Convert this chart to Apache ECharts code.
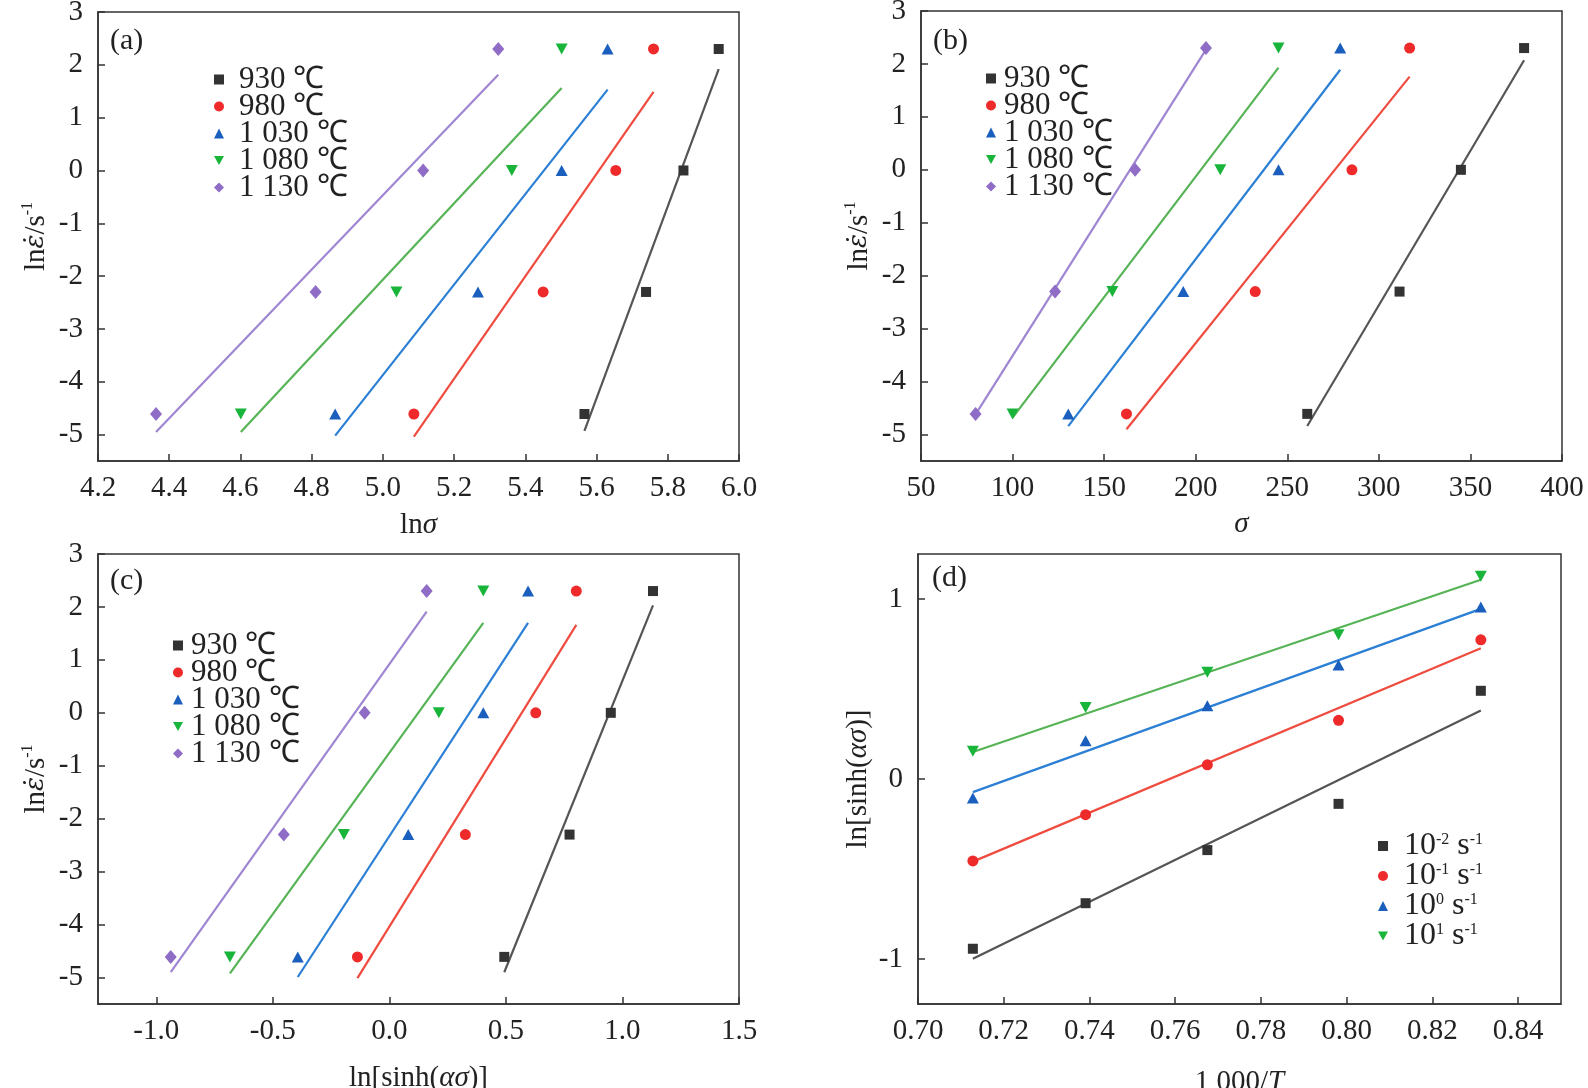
<!DOCTYPE html>
<html>
<head>
<meta charset="UTF-8">
<title>lnε - σ fits</title>
<script src="https://cdn.jsdelivr.net/npm/echarts@6/dist/echarts.min.js"></script>
<style>
  * {margin: 0; padding: 0;}
  body {background: #fff;}
  #chart {width: 1588px; height: 1088px;}
</style>
</head>
<body>
<div id="chart"></div>
<script>
// legend names
var temps = ['930 ℃', '980 ℃', '1 030 ℃', '1 080 ℃', '1 130 ℃'];
var rateExp = ['-2', '-1', '0', '1'];
var rateNames = ['10^-2 s^-1', '10^-1 s^-1', '10^0 s^-1', '10^1 s^-1'];

// ln(strain rate) of the four test rates
var lnRate = [-4.61, -2.30, 0, 2.30];

// (a) ln sigma
var aX930 = [5.566, 5.739, 5.844, 5.943];
var aX980 = [5.087, 5.450, 5.654, 5.760];
var aX1030 = [4.866, 5.267, 5.502, 5.631];
var aX1080 = [4.601, 5.038, 5.362, 5.502];
var aX1130 = [4.363, 4.811, 5.113, 5.324];
var aFit930 = [[5.566, -4.93], [5.943, 1.92]];
var aFit980 = [[5.087, -5.04], [5.760, 1.49]];
var aFit1030 = [[4.866, -5.02], [5.631, 1.53]];
var aFit1080 = [[4.601, -4.95], [5.502, 1.56]];
var aFit1130 = [[4.363, -4.95], [5.324, 1.81]];

// (b) sigma
var bX930 = [260.9, 311.3, 344.8, 379.3];
var bX980 = [162.2, 232.5, 285.3, 316.8];
var bX1030 = [130.4, 193.2, 245.2, 278.9];
var bX1080 = [100.0, 154.5, 213.4, 245.2];
var bX1130 = [79.8, 123.2, 166.9, 205.6];
var bFit930 = [[260.9, -4.84], [379.3, 2.07]];
var bFit980 = [[162.2, -4.90], [316.8, 1.76]];
var bFit1030 = [[130.4, -4.84], [278.9, 1.89]];
var bFit1080 = [[100.0, -4.68], [245.2, 1.93]];
var bFit1130 = [[79.8, -4.62], [205.6, 2.27]];

// (c) ln[sinh(a*sigma)]
var cX930 = [0.493, 0.773, 0.950, 1.131];
var cX980 = [-0.137, 0.326, 0.628, 0.802];
var cX1030 = [-0.393, 0.081, 0.403, 0.595];
var cX1080 = [-0.684, -0.195, 0.212, 0.403];
var cX1130 = [-0.938, -0.453, -0.106, 0.160];
var cFit930 = [[0.493, -4.90], [1.131, 2.03]];
var cFit980 = [[-0.137, -5.01], [0.802, 1.66]];
var cFit1030 = [[-0.393, -4.99], [0.595, 1.70]];
var cFit1080 = [[-0.684, -4.92], [0.403, 1.70]];
var cFit1130 = [[-0.938, -4.90], [0.160, 1.91]];

// (d) 1000/T
var dX = [0.7128, 0.7391, 0.7675, 0.7981, 0.8313];
var dY001 = [-0.943, -0.690, -0.395, -0.138, 0.490];
var dY01 = [-0.455, -0.198, 0.079, 0.326, 0.773];
var dY1 = [-0.105, 0.213, 0.407, 0.634, 0.955];
var dY10 = [0.154, 0.397, 0.593, 0.802, 1.126];
var dFit001 = [[0.7128, -0.998], [0.8313, 0.381]];
var dFit01 = [[0.7128, -0.459], [0.8313, 0.727]];
var dFit1 = [[0.7128, -0.073], [0.8313, 0.945]];
var dFit10 = [[0.7128, 0.150], [0.8313, 1.107]];

// tick labels
var yTicksRate = [-5, -4, -3, -2, -1, 0, 1, 2, 3];
var cTicksX = [-1.0, -0.5, 0.0, 0.5, 1.0, 1.5];
var dTicksX = [0.70, 0.72, 0.74, 0.76, 0.78, 0.80, 0.82, 0.84];
var dTicksY = [-1, 0, 1];

var markColors = ['#333333', '#ee2a2a', '#1a5fbd', '#19b43a', '#8f6cc6'];
var lineColors = ['#555555', '#ef4b3f', '#2b7fd4', '#56b356', '#9e86d2'];
var triDown = 'path://M0,0 L10,0 L5,9 Z';
var symbols = ['rect', 'circle', 'triangle', triDown, 'diamond'];
var symSize = [[10, 10], [11, 11], [12, 11], [12, 11], [12, 14]];

var SERIF = '"Liberation Serif", "Times New Roman", serif';
var INK = '#222';

function zipXY(xs, ys) {
	var out = [];
	for (var i = 0; i < xs.length; i++) out.push([xs[i], ys[i]]);
	return out;
}

function markSeries(name, data, k, g) {
	return {
		name: name, type: 'scatter', xAxisIndex: g, yAxisIndex: g,
		symbol: symbols[k], symbolSize: symSize[k],
		itemStyle: {color: markColors[k], opacity: 1},
		data: data, z: 3
	};
}

function fitSeries(data, k, g) {
	return {
		type: 'line', xAxisIndex: g, yAxisIndex: g, data: data,
		symbol: 'none', silent: true,
		lineStyle: {color: lineColors[k], width: 2.2}, z: 2
	};
}

var nameRich = {
	n: {fontFamily: SERIF, fontSize: 29, color: INK, lineHeight: 32},
	i: {fontFamily: SERIF, fontSize: 29, color: INK, fontStyle: 'italic', lineHeight: 32},
	e: {fontFamily: '"DejaVu Serif"', fontSize: 26, color: INK, fontStyle: 'italic', lineHeight: 32},
	s: {fontFamily: SERIF, fontSize: 16, color: INK, verticalAlign: 'top', lineHeight: 32}
};
var rateName = '{n|ln}{e|ε̇}{n|/s}{s|-1}';

function axisBase(g) {
	return {
		type: 'value', gridIndex: g,
		axisLine: {show: true, onZero: false, lineStyle: {color: '#333', width: 1.5}},
		axisTick: {show: true, inside: true, length: 7, lineStyle: {color: '#333', width: 1.5}},
		splitLine: {show: false},
		axisLabel: {fontFamily: SERIF, fontSize: 29, color: INK, margin: 14},
		nameLocation: 'middle',
		nameMoveOverlap: false,
		nameTextStyle: {rich: nameRich}
	};
}

function xAxisOf(g, min, max, extra) {
	var ax = axisBase(g);
	ax.min = min; ax.max = max;
	for (var k in extra) ax[k] = extra[k];
	return ax;
}

function xLabel(ticks, digits) {
	var l = {fontFamily: SERIF, fontSize: 29, color: INK, margin: 13,
		formatter: function (v) { return v.toFixed(digits); }};
	if (ticks) l.customValues = ticks;
	return l;
}

function xTick(ticks) {
	return {show: true, inside: true, length: 7, customValues: ticks, lineStyle: {color: '#333', width: 1.5}};
}

function yAxisOf(g, min, max, ticks, name, gap) {
	var ax = axisBase(g);
	ax.min = min; ax.max = max;
	ax.axisLabel.margin = 15;
	ax.axisLabel.customValues = ticks;
	ax.axisTick.customValues = ticks;
	ax.name = name; ax.nameGap = gap;
	return ax;
}

var chart = echarts.init(document.getElementById('chart'));

var grids = [
	{left: 98, top: 12, width: 641, height: 449},
	{left: 921, top: 11, width: 641, height: 450},
	{left: 98, top: 554, width: 641, height: 450},
	{left: 918, top: 554, width: 643, height: 450}
];
grids.forEach(function (g) {
	g.show = true; g.borderColor = '#333'; g.borderWidth = 1.5;
	g.containLabel = false; g.outerBoundsMode = 'none';
});

var xAxes = [
	xAxisOf(0, 4.2, 6.0, {interval: 0.2, name: '{n|ln}{i|σ}', nameGap: 48, axisLabel: xLabel(null, 1)}),
	xAxisOf(1, 50, 400, {interval: 50, name: '{i|σ}', nameGap: 47, axisLabel: xLabel(null, 0)}),
	xAxisOf(2, -1.25, 1.5, {name: '{n|ln[sinh(}{i|ασ}{n|)]}', nameGap: 58,
		axisLabel: xLabel(cTicksX, 1), axisTick: xTick(cTicksX)}),
	xAxisOf(3, 0.70, 0.85, {name: '{n|1 000/}{i|T}', nameGap: 62,
		axisLabel: xLabel(dTicksX, 2), axisTick: xTick(dTicksX)})
];

var yAxes = [
	yAxisOf(0, -5.5, 3, yTicksRate, rateName, 46),
	yAxisOf(1, -5.5, 3, yTicksRate, rateName, 46),
	yAxisOf(2, -5.5, 3, yTicksRate, rateName, 46),
	yAxisOf(3, -1.25, 1.25, dTicksY, '{n|ln[sinh(}{i|ασ}{n|)]}', 44)
];

var aXs = [aX930, aX980, aX1030, aX1080, aX1130];
var aFits = [aFit930, aFit980, aFit1030, aFit1080, aFit1130];
var bXs = [bX930, bX980, bX1030, bX1080, bX1130];
var bFits = [bFit930, bFit980, bFit1030, bFit1080, bFit1130];
var cXs = [cX930, cX980, cX1030, cX1080, cX1130];
var cFits = [cFit930, cFit980, cFit1030, cFit1080, cFit1130];
var dYs = [dY001, dY01, dY1, dY10];
var dFits = [dFit001, dFit01, dFit1, dFit10];

var series = [];
[aFits, bFits, cFits].forEach(function (fits, g) {
	fits.forEach(function (f, k) { series.push(fitSeries(f, k, g)); });
});
dFits.forEach(function (f, k) { series.push(fitSeries(f, k, 3)); });
[aXs, bXs, cXs].forEach(function (xs, g) {
	xs.forEach(function (x, k) { series.push(markSeries(temps[k], zipXY(x, lnRate), k, g)); });
});
dYs.forEach(function (y, k) { series.push(markSeries(rateNames[k], zipXY(dX, y), k, 3)); });

function legendItems(names) {
	return names.map(function (n, k) { return {name: n, icon: symbols[k]}; });
}

function tempLegend(left, top, pad) {
	return {
		data: legendItems(temps), orient: 'vertical', left: left, top: top,
		itemWidth: 10, itemHeight: 10, itemGap: -4, padding: 0, selectedMode: false,
		textStyle: {fontFamily: SERIF, fontSize: 31, color: INK, lineHeight: 26, padding: [0, 0, 0, pad]}
	};
}

var option = {
	backgroundColor: '#fff',
	animation: false,
	grid: grids,
	xAxis: xAxes,
	yAxis: yAxes,
	legend: [
		tempLegend(214, 64, 10),
		tempLegend(986, 63, 3),
		tempLegend(173, 630, 3),
		{
			data: legendItems(rateNames), orient: 'vertical', left: 1378, top: 830,
			itemWidth: 10, itemHeight: 10, itemGap: -2, padding: 0, selectedMode: false,
			formatter: function (name) {
				var k = rateNames.indexOf(name);
				return '{n|10}{s|' + rateExp[k] + '}{n| s}{s|-1}';
			},
			textStyle: {
				fontFamily: SERIF, fontSize: 32, color: INK, lineHeight: 29, padding: [0, 0, 0, 11],
				rich: {
					n: {fontFamily: SERIF, fontSize: 32, color: INK, lineHeight: 29},
					s: {fontFamily: SERIF, fontSize: 16, color: INK, lineHeight: 29, verticalAlign: 'top'}
				}
			}
		}
	],
	graphic: [
		{type: 'text', left: 110, top: 26, style: {text: '(a)', font: '30px ' + SERIF, fill: INK}},
		{type: 'text', left: 933, top: 26, style: {text: '(b)', font: '30px ' + SERIF, fill: INK}},
		{type: 'text', left: 110, top: 566, style: {text: '(c)', font: '30px ' + SERIF, fill: INK}},
		{type: 'text', left: 932, top: 563, style: {text: '(d)', font: '30px ' + SERIF, fill: INK}}
	],
	series: series
};

chart.setOption(option);
</script>
</body>
</html>
